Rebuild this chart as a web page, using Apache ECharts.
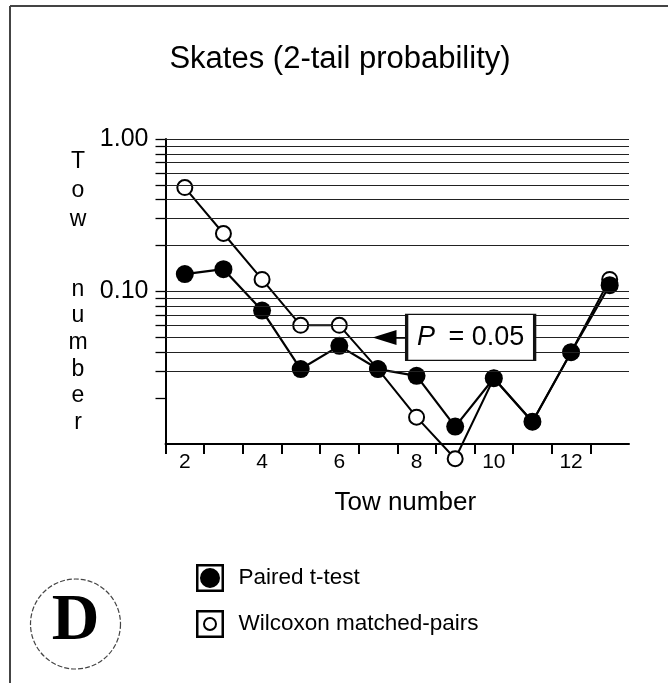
<!DOCTYPE html>
<html>
<head>
<meta charset="utf-8">
<title>Skates (2-tail probability)</title>
<script src="https://cdn.jsdelivr.net/npm/echarts@6/dist/echarts.min.js"></script>
<style>
  html, body { margin: 0; padding: 0; background: #fff; }
  #chart { width: 668px; height: 683px; }
</style>
</head>
<body>
<div id="chart"></div>
<script>
// Tow numbers on the horizontal axis
const tows = [2, 3, 4, 5, 6, 7, 8, 9, 10, 11, 12, 13];
// Two-tailed probabilities per tow
const pairedT  = [0.13, 0.14, 0.075, 0.031, 0.044, 0.031, 0.028, 0.013, 0.027, 0.014, 0.040, 0.11];
const wilcoxon = [0.48, 0.24, 0.12, 0.06, 0.06, 0.031, 0.015, 0.008, 0.027, 0.014, 0.040, 0.12];

// Axis ticks and labels
const xTickValues  = [1.5, 2.5, 3.5, 4.5, 5.5, 6.5, 7.5, 8.5, 9.5, 10.5, 11.5, 12.5];
const xLabelValues = [2, 4, 6, 8, 10, 12];
const yLabelValues = [0.1, 1];
const yTickValues  = [0.02, 0.03, 0.04, 0.05, 0.06, 0.07, 0.08, 0.09, 0.1,
                      0.2, 0.3, 0.4, 0.5, 0.6, 0.7, 0.8, 0.9, 1];
// Horizontal rules across the plot
const gridValues   = [0.03, 0.04, 0.05, 0.06, 0.07, 0.08, 0.09, 0.1,
                      0.2, 0.3, 0.4, 0.5, 0.6, 0.7, 0.8, 0.9, 1];
// Significance threshold callout
const threshold = 0.05;

const FONT = '"Liberation Sans", Arial, Helvetica, sans-serif';

const filledIcon = 'path://M0,0H28V28H0Z M2.5,2.5V25.5H25.5V2.5Z M4,14A10,10 0 1,0 24,14A10,10 0 1,0 4,14Z';
const openIcon   = 'path://M0,0H28V28H0Z M2.5,2.5V25.5H25.5V2.5Z M7,14A7,7 0 1,0 21,14A7,7 0 1,0 7,14Z M9,14A5,5 0 1,1 19,14A5,5 0 1,1 9,14Z';

const chart = echarts.init(document.getElementById('chart'), null, { renderer: 'canvas' });

chart.setOption({
  animation: false,
  backgroundColor: '#fff',
  title: {
    text: 'Skates (2-tail probability)',
    left: 335,
    top: 39,
    textAlign: 'center',
    textStyle: { fontFamily: FONT, fontSize: 31, fontWeight: 'normal', color: '#000' }
  },
  grid: { left: 165.5, right: 39, top: 139, bottom: 239, containLabel: false },
  legend: {
    orient: 'vertical',
    left: 196,
    top: 564,
    padding: 0,
    itemWidth: 31,
    itemHeight: 28,
    itemGap: 18,
    selectedMode: false,
    itemStyle: { color: '#000', borderWidth: 0 },
    textStyle: { fontFamily: FONT, fontSize: 22.5, color: '#000', padding: [0, 0, 0, 8] },
    data: [
      { name: 'Paired t-test', icon: filledIcon },
      { name: 'Wilcoxon matched-pairs', icon: openIcon }
    ]
  },
  xAxis: {
    type: 'value',
    min: 1.5,
    max: 13.5,
    name: 'Tow number',
    nameLocation: 'middle',
    nameGap: 46,
    nameTextStyle: { fontFamily: FONT, fontSize: 26, color: '#000', padding: [0, 0, 0, 16] },
    axisLine: { show: true, onZero: false, lineStyle: { color: '#000', width: 2 } },
    axisTick: { show: true, length: 10, lineStyle: { color: '#000', width: 2 }, customValues: xTickValues },
    axisLabel: { margin: 8, fontFamily: FONT, fontSize: 21, color: '#000', customValues: xLabelValues },
    splitLine: { show: false }
  },
  yAxis: {
    type: 'log',
    logBase: 10,
    min: 0.01,
    max: 1,
    axisLine: { show: true, lineStyle: { color: '#000', width: 2 } },
    axisTick: { show: true, length: 10, lineStyle: { color: '#000', width: 1.3 }, customValues: yTickValues },
    axisLabel: {
      margin: 17, fontFamily: FONT, fontSize: 25, color: '#000',
      customValues: yLabelValues,
      formatter: v => Number(v).toFixed(2)
    },
    splitLine: { show: false },
    minorTick: { show: false }
  },
  series: [
    {
      name: 'rules',
      type: 'line',
      data: [],
      z: 1,
      silent: true,
      markLine: {
        silent: true,
        symbol: 'none',
        label: { show: false },
        lineStyle: { color: '#222', width: 1.2, type: 'solid' },
        data: gridValues.map(v => ({ yAxis: v }))
      }
    },
    {
      name: 'Wilcoxon matched-pairs',
      type: 'line',
      data: tows.map((t, i) => [t, wilcoxon[i]]),
      clip: false,
      z: 3,
      symbol: 'circle',
      symbolSize: 15,
      lineStyle: { color: '#000', width: 2 },
      itemStyle: { color: '#fff', borderColor: '#000', borderWidth: 2 }
    },
    {
      name: 'Paired t-test',
      type: 'line',
      data: tows.map((t, i) => [t, pairedT[i]]),
      clip: false,
      z: 4,
      symbol: 'circle',
      symbolSize: 18,
      lineStyle: { color: '#000', width: 2.2 },
      itemStyle: { color: '#000', borderColor: '#000', borderWidth: 0 }
    },
    {
      name: 'threshold',
      type: 'line',
      data: [],
      z: 5,
      silent: true,
      markLine: {
        silent: true,
        symbol: ['none', 'triangle'],
        symbolSize: 20,
        label: { show: false },
        lineStyle: { color: '#000', width: 1.5, type: 'solid' },
        itemStyle: { color: '#000' },
        data: [[
          { coord: [7.74, threshold] },
          { coord: [7.17, threshold], symbol: 'triangle', symbolSize: [15, 24] }
        ]]
      },
      markPoint: {
        silent: true,
        symbol: 'rect',
        symbolSize: [128, 46],
        itemStyle: { color: '#fff', borderColor: '#111', borderWidth: 2 },
        label: {
          show: true,
          position: 'inside',
          fontFamily: FONT,
          fontSize: 27,
          color: '#000',
          formatter: '{i|P} = ' + threshold.toFixed(2),
          rich: {
            i: { fontFamily: FONT, fontSize: 27, fontStyle: 'italic', color: '#000', padding: [0, 6, 0, 0] }
          }
        },
        data: [{ coord: [9.4, threshold] }]
      }
    }
  ],
  graphic: [
    // page frame
    { type: 'line', shape: { x1: 10, y1: 6, x2: 10, y2: 683 }, style: { stroke: '#444', lineWidth: 2 } },
    { type: 'line', shape: { x1: 10, y1: 6, x2: 668, y2: 6 }, style: { stroke: '#444', lineWidth: 2 } },
    // stacked vertical axis title
    {
      type: 'text', x: 78, y: 147,
      style: { text: 'T\no\nw', font: '23px ' + FONT, fill: '#000', align: 'center', verticalAlign: 'top', lineHeight: 29 }
    },
    {
      type: 'text', x: 78, y: 276,
      style: { text: 'n\nu\nm\nb\ne\nr', font: '23px ' + FONT, fill: '#000', align: 'center', verticalAlign: 'top', lineHeight: 26.7 }
    },
    // panel badge
    {
      type: 'circle', shape: { cx: 75.5, cy: 624, r: 45 },
      style: { fill: 'none', stroke: '#444', lineWidth: 1.2, lineDash: [5, 2] }
    },
    {
      type: 'text', x: 75.5, y: 622,
      style: { text: 'D', font: 'bold 66px "Liberation Serif", "Times New Roman", serif', fill: '#000', align: 'center', verticalAlign: 'middle' }
    }
  ]
});
</script>
</body>
</html>
